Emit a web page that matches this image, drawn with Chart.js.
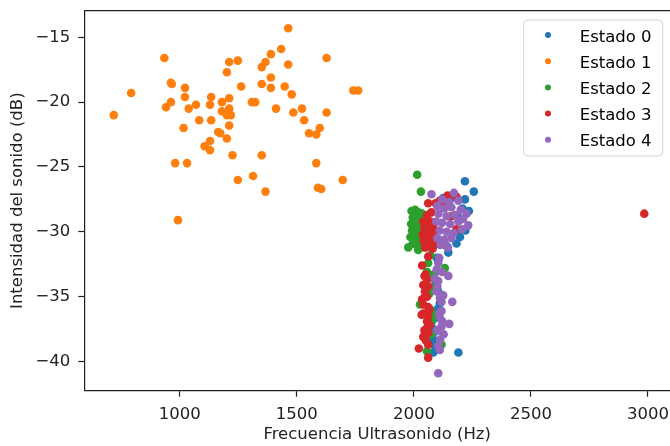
<!DOCTYPE html>
<html>
<head>
<meta charset="utf-8">
<script src="https://cdn.jsdelivr.net/npm/chart.js@4"></script>
<style>
  body { margin: 0; background: #fff; }
</style>
</head>
<body>
<canvas id="myChart" width="670" height="446"></canvas>
<script>
// [Hz, dB] pairs
const estado0 = [
  [2218, -26.1], [2256, -26.9], [2218, -27.5], [2125, -27.4], [2154, -27.5],
  [2208, -28.2], [2235, -28.4], [2190, -28.9], [2220, -29.9], [2197, -30.4],
  [2182, -30.9], [2140, -31.1], [2111, -31.0], [2147, -31.6], [2104, -32.2],
  [2097, -32.0], [2100, -33.0], [2092, -33.8], [2104, -34.6], [2111, -35.5],
  [2104, -35.9], [2097, -36.3], [2097, -36.6], [2077, -36.9], [2083, -37.5],
  [2090, -37.7], [2083, -38.3], [2090, -38.8], [2097, -39.0], [2083, -39.3],
  [2190, -39.3]
];
const estado1 = [
  [718, -21.0], [792, -19.3], [934, -16.6], [962, -18.5], [966, -18.6],
  [962, -20.0], [941, -20.4], [1022, -18.9], [1022, -19.6], [1038, -20.5],
  [1069, -20.2], [1016, -22.0], [980, -24.7], [1031, -24.7], [1083, -21.4],
  [1134, -19.6], [1129, -20.2], [1134, -21.4], [1164, -22.3], [1173, -22.4],
  [1129, -23.0], [1106, -23.4], [1129, -23.7], [1180, -20.0], [1180, -20.7],
  [1211, -19.7], [1211, -20.5], [1201, -21.0], [1218, -21.0], [1211, -21.8],
  [1201, -22.8], [1201, -17.7], [1211, -16.9], [1248, -16.8], [1262, -18.8],
  [1225, -24.1], [1248, -26.0], [1313, -25.7], [1308, -20.0], [1322, -20.0],
  [1350, -17.3], [1366, -16.9], [1389, -16.3], [1433, -15.9], [1463, -14.3],
  [1463, -17.1], [1389, -18.1], [1350, -18.6], [1389, -18.9], [1448, -18.8],
  [1478, -19.4], [1411, -20.5], [1485, -20.8], [1522, -20.5], [1531, -21.4],
  [1552, -22.4], [1583, -22.5], [1598, -22.0], [1627, -20.8], [1627, -16.6],
  [1741, -19.1], [1762, -19.1], [1583, -24.7], [1696, -26.0], [1350, -24.1],
  [1590, -26.6], [1604, -26.7], [1366, -26.9], [992, -29.1]
];
const estado2 = [
  [2014, -25.6], [2030, -26.9], [1990, -28.4], [2005, -28.3], [2020, -28.5],
  [2035, -28.6], [1995, -28.9], [2012, -29.0], [2028, -28.9], [2042, -29.1],
  [1988, -29.4], [2003, -29.5], [2018, -29.6], [2033, -29.4], [1992, -29.9],
  [2008, -30.0], [2024, -30.1], [2040, -29.9], [1985, -30.4], [2000, -30.5],
  [2015, -30.4], [2030, -30.6], [1995, -30.9], [2010, -31.0], [2025, -30.9],
  [2045, -31.2], [1976, -31.2], [2018, -31.4], [2070, -31.8], [2061, -32.4],
  [2056, -33.1], [2132, -32.8], [2083, -33.3], [2083, -34.3], [2065, -34.8],
  [2118, -35.0], [2026, -35.6], [2070, -36.0], [2083, -36.4], [2076, -36.8],
  [2060, -37.0], [2072, -37.9], [2118, -38.7], [2056, -39.2]
];
const estado3 = [
  [2061, -27.8], [2093, -27.8], [2144, -27.2], [2182, -27.3], [2110, -27.6],
  [2130, -28.0], [2057, -28.7], [2075, -28.5], [2160, -28.8], [2182, -29.8],
  [2040, -29.2], [2055, -29.3], [2070, -29.2], [2085, -29.4], [2045, -29.7],
  [2062, -29.8], [2078, -29.7], [2092, -29.9], [2038, -30.2], [2052, -30.3],
  [2068, -30.2], [2082, -30.4], [2042, -30.7], [2058, -30.8], [2074, -30.7],
  [2090, -30.9], [2048, -31.2], [2065, -31.1], [2080, -31.3], [2061, -31.9],
  [2035, -32.6], [2050, -33.3], [2045, -33.4], [2056, -33.7], [2040, -34.1],
  [2061, -34.2], [2047, -34.6], [2050, -34.9], [2056, -35.0], [2035, -35.2],
  [2040, -35.6], [2061, -35.8], [2066, -36.0], [2040, -36.3], [2033, -36.4],
  [2061, -36.5], [2056, -36.9], [2068, -37.2], [2056, -37.4], [2045, -37.6],
  [2061, -37.8], [2040, -38.1], [2052, -38.4], [2061, -38.7], [2021, -39.0],
  [2061, -39.7], [2984, -28.6]
];
const estado4 = [
  [2075, -27.1], [2171, -27.0], [2120, -27.5], [2150, -27.7], [2190, -27.6],
  [2100, -28.0], [2130, -28.2], [2160, -28.1], [2200, -28.3], [2225, -28.6],
  [2105, -28.6], [2140, -28.8], [2175, -28.7], [2210, -29.0], [2095, -29.2],
  [2120, -29.3], [2155, -29.4], [2190, -29.2], [2232, -29.5], [2110, -29.9],
  [2140, -30.0], [2170, -30.1], [2205, -29.8], [2100, -30.5], [2130, -30.6],
  [2160, -30.5], [2115, -31.0], [2145, -31.2], [2108, -32.0], [2104, -32.4],
  [2097, -32.9], [2120, -33.1], [2147, -33.4], [2090, -33.6], [2104, -33.8],
  [2100, -34.2], [2097, -34.6], [2125, -34.9], [2111, -35.1], [2118, -35.4],
  [2164, -35.4], [2118, -36.1], [2108, -36.3], [2111, -36.6], [2121, -36.9],
  [2151, -37.1], [2118, -37.3], [2100, -37.6], [2127, -37.9], [2112, -38.3],
  [2104, -38.8], [2111, -39.1], [2104, -40.9]
];

const labels = ["Estado 0", "Estado 1", "Estado 2", "Estado 3", "Estado 4"];
const xTicks = [1000, 1500, 2000, 2500, 3000];
const yTicks = [-40, -35, -30, -25, -20, -15];

const colors = ["#1f77b4", "#ff7f0e", "#2ca02c", "#d62728", "#9467bd"];
const font = { family: "'DejaVu Sans', sans-serif", size: 16.5 };

const series = [estado0, estado1, estado2, estado3, estado4];

// matplotlib style legend, drawn inside the axes at top right
const innerLegend = {
  id: "innerLegend",
  afterDraw(chart) {
    const ctx = chart.ctx;
    const area = chart.chartArea;
    const w = 139, h = 136;
    const x0 = area.right - 7.3 - w;
    const y0 = area.top + 9.3;
    const r = 4;
    ctx.save();
    ctx.beginPath();
    ctx.moveTo(x0 + r, y0);
    ctx.arcTo(x0 + w, y0, x0 + w, y0 + h, r);
    ctx.arcTo(x0 + w, y0 + h, x0, y0 + h, r);
    ctx.arcTo(x0, y0 + h, x0, y0, r);
    ctx.arcTo(x0, y0, x0 + w, y0, r);
    ctx.closePath();
    ctx.fillStyle = "rgba(255,255,255,0.8)";
    ctx.fill();
    ctx.strokeStyle = "#d6d6d6";
    ctx.lineWidth = 1;
    ctx.stroke();
    ctx.font = `${font.size}px ${font.family}`;
    ctx.textBaseline = "alphabetic";
    ctx.textAlign = "left";
    chart.data.datasets.forEach((ds, i) => {
      const cy = y0 + 15 + i * 26.2;
      ctx.beginPath();
      ctx.arc(x0 + 24.3, cy, 3, 0, Math.PI * 2);
      ctx.fillStyle = ds.backgroundColor;
      ctx.fill();
      ctx.fillStyle = "#000";
      ctx.fillText(ds.label, x0 + 56, cy + 6.5);
    });
    ctx.restore();
  }
};

// top spine
const frame = {
  id: "frame",
  afterDatasetsDraw(chart) {
    const { ctx, chartArea: a } = chart;
    ctx.save();
    ctx.strokeStyle = "#222";
    ctx.lineWidth = 1.2;
    ctx.beginPath();
    ctx.moveTo(a.left, a.top);
    ctx.lineTo(a.right, a.top);
    ctx.stroke();
    ctx.restore();
  }
};

function noPad(s) {
  s.paddingLeft = 0;
  s.paddingRight = 0;
  s.paddingTop = 0;
  s.paddingBottom = 0;
}

const ctx = document.getElementById("myChart");

new Chart(ctx, {
  type: "scatter",
  data: {
    datasets: series.map((pts, i) => ({
      label: labels[i],
      data: pts.map(([x, y]) => ({ x, y })),
      backgroundColor: colors[i],
      borderWidth: 0,
      pointRadius: 4.3,
      order: 4 - i,
    })),
  },
  options: {
    responsive: false,
    animation: false,
    layout: { autoPadding: false, padding: { top: 10.7, right: 0, left: 0, bottom: 0 } },
    plugins: {
      legend: { display: false },
      tooltip: { enabled: false },
    },
    scales: {
      x: {
        type: "linear",
        min: 592,
        max: 3094,
        afterFit: (s) => { s.height = 55.3; noPad(s); },
        afterBuildTicks: (s) => { s.ticks = xTicks.map((v) => ({ value: v })); },
        grid: { drawOnChartArea: false, drawTicks: true, tickLength: 6, color: "#222", tickWidth: 1.2 },
        border: { display: true, color: "#222", width: 1.2 },
        ticks: { color: "#222", font, padding: 8, maxRotation: 0, callback: (v) => String(v) },
        title: {
          display: true,
          text: "Frecuencia Ultrasonido (Hz)",
          color: "#222",
          font,
          padding: { top: 0, bottom: 1 },
        },
      },
      y: {
        type: "linear",
        min: -42.25,
        max: -12.95,
        afterFit: (s) => { s.width = 84.3; noPad(s); },
        afterBuildTicks: (s) => { s.ticks = yTicks.map((v) => ({ value: v })); },
        grid: { drawOnChartArea: false, drawTicks: true, tickLength: 6, color: "#222", tickWidth: 1.2 },
        border: { display: true, color: "#222", width: 1.2 },
        ticks: {
          color: "#222",
          font,
          padding: 8,
          callback: (v) => String(v).replace("-", "\u2212"),
        },
        title: {
          display: true,
          text: "Intensidad del sonido (dB)",
          color: "#222",
          font,
          padding: { top: 7.7, bottom: 0 },
        },
      },
    },
  },
  plugins: [frame, innerLegend],
});
</script>
</body>
</html>
